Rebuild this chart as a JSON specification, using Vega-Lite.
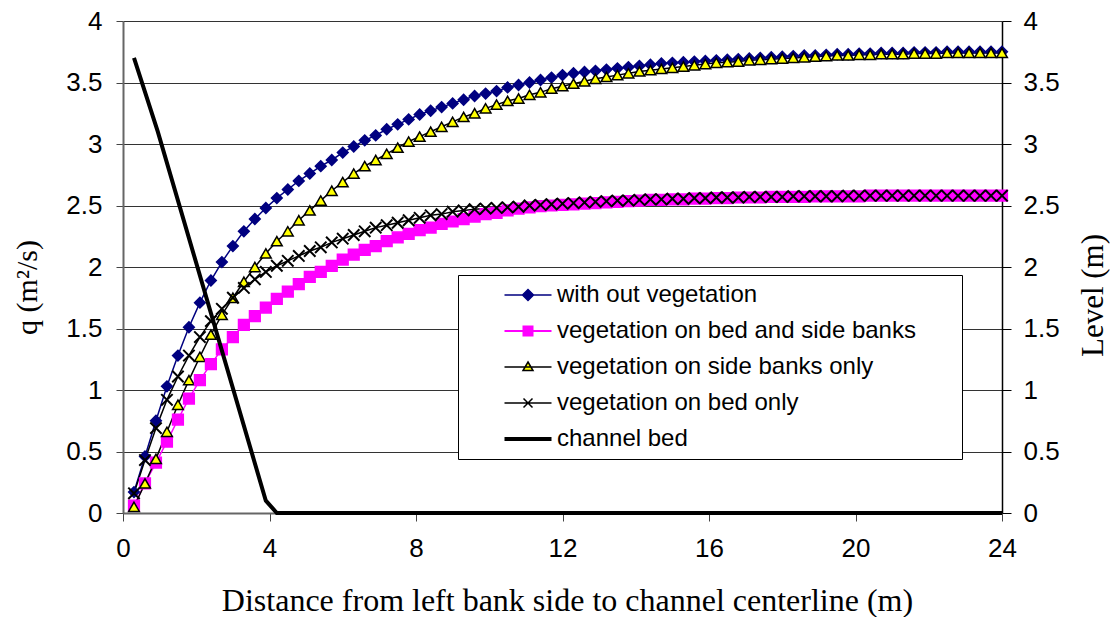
{
  "$schema": "https://vega.github.io/schema/vega-lite/v6.json",
  "width": 879,
  "height": 492,
  "autosize": {"type": "none"},
  "padding": {"left": 123, "top": 21, "right": 108, "bottom": 104},
  "background": "#ffffff",
  "config": {
    "view": {"stroke": null},
    "axis": {"labelFont": "Liberation Sans", "titleFont": "Liberation Serif", "labelColor": "#000", "titleColor": "#000", "titleFontWeight": "normal"}
  },
  "datasets": {
    "flow": [
      {"x": 0.3, "with out vegetation": 0.17, "vegetation on bed and side banks": 0.06, "vegetation on side banks only": 0.05, "vegetation on bed only": 0.16},
      {"x": 0.6, "with out vegetation": 0.46, "vegetation on bed and side banks": 0.24, "vegetation on side banks only": 0.24, "vegetation on bed only": 0.43},
      {"x": 0.9, "with out vegetation": 0.75, "vegetation on bed and side banks": 0.41, "vegetation on side banks only": 0.44, "vegetation on bed only": 0.69},
      {"x": 1.2, "with out vegetation": 1.03, "vegetation on bed and side banks": 0.58, "vegetation on side banks only": 0.66, "vegetation on bed only": 0.92},
      {"x": 1.5, "with out vegetation": 1.28, "vegetation on bed and side banks": 0.76, "vegetation on side banks only": 0.88, "vegetation on bed only": 1.11},
      {"x": 1.8, "with out vegetation": 1.51, "vegetation on bed and side banks": 0.93, "vegetation on side banks only": 1.08, "vegetation on bed only": 1.28},
      {"x": 2.1, "with out vegetation": 1.71, "vegetation on bed and side banks": 1.08, "vegetation on side banks only": 1.27, "vegetation on bed only": 1.43},
      {"x": 2.4, "with out vegetation": 1.89, "vegetation on bed and side banks": 1.21, "vegetation on side banks only": 1.45, "vegetation on bed only": 1.56},
      {"x": 2.7, "with out vegetation": 2.04, "vegetation on bed and side banks": 1.33, "vegetation on side banks only": 1.61, "vegetation on bed only": 1.66},
      {"x": 3.0, "with out vegetation": 2.17, "vegetation on bed and side banks": 1.43, "vegetation on side banks only": 1.75, "vegetation on bed only": 1.75},
      {"x": 3.3, "with out vegetation": 2.29, "vegetation on bed and side banks": 1.53, "vegetation on side banks only": 1.88, "vegetation on bed only": 1.83},
      {"x": 3.6, "with out vegetation": 2.39, "vegetation on bed and side banks": 1.60, "vegetation on side banks only": 2.00, "vegetation on bed only": 1.90},
      {"x": 3.9, "with out vegetation": 2.48, "vegetation on bed and side banks": 1.67, "vegetation on side banks only": 2.11, "vegetation on bed only": 1.96},
      {"x": 4.2, "with out vegetation": 2.56, "vegetation on bed and side banks": 1.74, "vegetation on side banks only": 2.21, "vegetation on bed only": 2.01},
      {"x": 4.5, "with out vegetation": 2.63, "vegetation on bed and side banks": 1.80, "vegetation on side banks only": 2.29, "vegetation on bed only": 2.05},
      {"x": 4.8, "with out vegetation": 2.70, "vegetation on bed and side banks": 1.86, "vegetation on side banks only": 2.38, "vegetation on bed only": 2.09},
      {"x": 5.1, "with out vegetation": 2.76, "vegetation on bed and side banks": 1.92, "vegetation on side banks only": 2.46, "vegetation on bed only": 2.13},
      {"x": 5.4, "with out vegetation": 2.82, "vegetation on bed and side banks": 1.96, "vegetation on side banks only": 2.54, "vegetation on bed only": 2.16},
      {"x": 5.7, "with out vegetation": 2.87, "vegetation on bed and side banks": 2.01, "vegetation on side banks only": 2.62, "vegetation on bed only": 2.20},
      {"x": 6.0, "with out vegetation": 2.93, "vegetation on bed and side banks": 2.06, "vegetation on side banks only": 2.69, "vegetation on bed only": 2.23},
      {"x": 6.3, "with out vegetation": 2.98, "vegetation on bed and side banks": 2.10, "vegetation on side banks only": 2.76, "vegetation on bed only": 2.26},
      {"x": 6.6, "with out vegetation": 3.03, "vegetation on bed and side banks": 2.14, "vegetation on side banks only": 2.82, "vegetation on bed only": 2.29},
      {"x": 6.9, "with out vegetation": 3.07, "vegetation on bed and side banks": 2.17, "vegetation on side banks only": 2.87, "vegetation on bed only": 2.32},
      {"x": 7.2, "with out vegetation": 3.12, "vegetation on bed and side banks": 2.21, "vegetation on side banks only": 2.92, "vegetation on bed only": 2.34},
      {"x": 7.5, "with out vegetation": 3.16, "vegetation on bed and side banks": 2.24, "vegetation on side banks only": 2.97, "vegetation on bed only": 2.36},
      {"x": 7.8, "with out vegetation": 3.20, "vegetation on bed and side banks": 2.27, "vegetation on side banks only": 3.02, "vegetation on bed only": 2.38},
      {"x": 8.1, "with out vegetation": 3.24, "vegetation on bed and side banks": 2.30, "vegetation on side banks only": 3.06, "vegetation on bed only": 2.40},
      {"x": 8.4, "with out vegetation": 3.27, "vegetation on bed and side banks": 2.32, "vegetation on side banks only": 3.10, "vegetation on bed only": 2.42},
      {"x": 8.7, "with out vegetation": 3.30, "vegetation on bed and side banks": 2.35, "vegetation on side banks only": 3.14, "vegetation on bed only": 2.43},
      {"x": 9.0, "with out vegetation": 3.33, "vegetation on bed and side banks": 2.37, "vegetation on side banks only": 3.18, "vegetation on bed only": 2.45},
      {"x": 9.3, "with out vegetation": 3.36, "vegetation on bed and side banks": 2.39, "vegetation on side banks only": 3.22, "vegetation on bed only": 2.46},
      {"x": 9.6, "with out vegetation": 3.39, "vegetation on bed and side banks": 2.41, "vegetation on side banks only": 3.25, "vegetation on bed only": 2.47},
      {"x": 9.9, "with out vegetation": 3.41, "vegetation on bed and side banks": 2.43, "vegetation on side banks only": 3.29, "vegetation on bed only": 2.475},
      {"x": 10.2, "with out vegetation": 3.43, "vegetation on bed and side banks": 2.44, "vegetation on side banks only": 3.32, "vegetation on bed only": 2.48},
      {"x": 10.5, "with out vegetation": 3.46, "vegetation on bed and side banks": 2.46, "vegetation on side banks only": 3.35, "vegetation on bed only": 2.485},
      {"x": 10.8, "with out vegetation": 3.48, "vegetation on bed and side banks": 2.475, "vegetation on side banks only": 3.37, "vegetation on bed only": 2.49},
      {"x": 11.1, "with out vegetation": 3.50, "vegetation on bed and side banks": 2.485, "vegetation on side banks only": 3.40, "vegetation on bed only": 2.50},
      {"x": 11.4, "with out vegetation": 3.52, "vegetation on bed and side banks": 2.495, "vegetation on side banks only": 3.42, "vegetation on bed only": 2.505},
      {"x": 11.7, "with out vegetation": 3.54, "vegetation on bed and side banks": 2.50, "vegetation on side banks only": 3.45, "vegetation on bed only": 2.51},
      {"x": 12.0, "with out vegetation": 3.56, "vegetation on bed and side banks": 2.505, "vegetation on side banks only": 3.47, "vegetation on bed only": 2.515},
      {"x": 12.3, "with out vegetation": 3.575, "vegetation on bed and side banks": 2.51, "vegetation on side banks only": 3.49, "vegetation on bed only": 2.52},
      {"x": 12.6, "with out vegetation": 3.585, "vegetation on bed and side banks": 2.515, "vegetation on side banks only": 3.51, "vegetation on bed only": 2.525},
      {"x": 12.9, "with out vegetation": 3.595, "vegetation on bed and side banks": 2.52, "vegetation on side banks only": 3.53, "vegetation on bed only": 2.53},
      {"x": 13.2, "with out vegetation": 3.605, "vegetation on bed and side banks": 2.525, "vegetation on side banks only": 3.545, "vegetation on bed only": 2.535},
      {"x": 13.5, "with out vegetation": 3.615, "vegetation on bed and side banks": 2.53, "vegetation on side banks only": 3.56, "vegetation on bed only": 2.54},
      {"x": 13.8, "with out vegetation": 3.625, "vegetation on bed and side banks": 2.535, "vegetation on side banks only": 3.575, "vegetation on bed only": 2.54},
      {"x": 14.1, "with out vegetation": 3.635, "vegetation on bed and side banks": 2.54, "vegetation on side banks only": 3.59, "vegetation on bed only": 2.545},
      {"x": 14.4, "with out vegetation": 3.645, "vegetation on bed and side banks": 2.545, "vegetation on side banks only": 3.60, "vegetation on bed only": 2.55},
      {"x": 14.7, "with out vegetation": 3.655, "vegetation on bed and side banks": 2.545, "vegetation on side banks only": 3.61, "vegetation on bed only": 2.55},
      {"x": 15.0, "with out vegetation": 3.66, "vegetation on bed and side banks": 2.55, "vegetation on side banks only": 3.62, "vegetation on bed only": 2.555},
      {"x": 15.3, "with out vegetation": 3.665, "vegetation on bed and side banks": 2.55, "vegetation on side banks only": 3.63, "vegetation on bed only": 2.555},
      {"x": 15.6, "with out vegetation": 3.67, "vegetation on bed and side banks": 2.555, "vegetation on side banks only": 3.64, "vegetation on bed only": 2.56},
      {"x": 15.9, "with out vegetation": 3.675, "vegetation on bed and side banks": 2.555, "vegetation on side banks only": 3.65, "vegetation on bed only": 2.56},
      {"x": 16.2, "with out vegetation": 3.68, "vegetation on bed and side banks": 2.56, "vegetation on side banks only": 3.66, "vegetation on bed only": 2.565},
      {"x": 16.5, "with out vegetation": 3.685, "vegetation on bed and side banks": 2.56, "vegetation on side banks only": 3.665, "vegetation on bed only": 2.565},
      {"x": 16.8, "with out vegetation": 3.69, "vegetation on bed and side banks": 2.565, "vegetation on side banks only": 3.67, "vegetation on bed only": 2.565},
      {"x": 17.1, "with out vegetation": 3.695, "vegetation on bed and side banks": 2.565, "vegetation on side banks only": 3.68, "vegetation on bed only": 2.57},
      {"x": 17.4, "with out vegetation": 3.70, "vegetation on bed and side banks": 2.565, "vegetation on side banks only": 3.685, "vegetation on bed only": 2.57},
      {"x": 17.7, "with out vegetation": 3.705, "vegetation on bed and side banks": 2.57, "vegetation on side banks only": 3.69, "vegetation on bed only": 2.57},
      {"x": 18.0, "with out vegetation": 3.71, "vegetation on bed and side banks": 2.57, "vegetation on side banks only": 3.695, "vegetation on bed only": 2.57},
      {"x": 18.3, "with out vegetation": 3.715, "vegetation on bed and side banks": 2.57, "vegetation on side banks only": 3.70, "vegetation on bed only": 2.575},
      {"x": 18.6, "with out vegetation": 3.72, "vegetation on bed and side banks": 2.57, "vegetation on side banks only": 3.705, "vegetation on bed only": 2.575},
      {"x": 18.9, "with out vegetation": 3.72, "vegetation on bed and side banks": 2.575, "vegetation on side banks only": 3.71, "vegetation on bed only": 2.575},
      {"x": 19.2, "with out vegetation": 3.725, "vegetation on bed and side banks": 2.575, "vegetation on side banks only": 3.715, "vegetation on bed only": 2.575},
      {"x": 19.5, "with out vegetation": 3.73, "vegetation on bed and side banks": 2.575, "vegetation on side banks only": 3.72, "vegetation on bed only": 2.575},
      {"x": 19.8, "with out vegetation": 3.73, "vegetation on bed and side banks": 2.575, "vegetation on side banks only": 3.72, "vegetation on bed only": 2.58},
      {"x": 20.1, "with out vegetation": 3.735, "vegetation on bed and side banks": 2.575, "vegetation on side banks only": 3.725, "vegetation on bed only": 2.58},
      {"x": 20.4, "with out vegetation": 3.735, "vegetation on bed and side banks": 2.58, "vegetation on side banks only": 3.725, "vegetation on bed only": 2.58},
      {"x": 20.7, "with out vegetation": 3.74, "vegetation on bed and side banks": 2.58, "vegetation on side banks only": 3.73, "vegetation on bed only": 2.58},
      {"x": 21.0, "with out vegetation": 3.74, "vegetation on bed and side banks": 2.58, "vegetation on side banks only": 3.73, "vegetation on bed only": 2.58},
      {"x": 21.3, "with out vegetation": 3.74, "vegetation on bed and side banks": 2.58, "vegetation on side banks only": 3.73, "vegetation on bed only": 2.58},
      {"x": 21.6, "with out vegetation": 3.745, "vegetation on bed and side banks": 2.58, "vegetation on side banks only": 3.735, "vegetation on bed only": 2.58},
      {"x": 21.9, "with out vegetation": 3.745, "vegetation on bed and side banks": 2.58, "vegetation on side banks only": 3.735, "vegetation on bed only": 2.58},
      {"x": 22.2, "with out vegetation": 3.745, "vegetation on bed and side banks": 2.58, "vegetation on side banks only": 3.735, "vegetation on bed only": 2.58},
      {"x": 22.5, "with out vegetation": 3.75, "vegetation on bed and side banks": 2.58, "vegetation on side banks only": 3.74, "vegetation on bed only": 2.58},
      {"x": 22.8, "with out vegetation": 3.75, "vegetation on bed and side banks": 2.58, "vegetation on side banks only": 3.74, "vegetation on bed only": 2.58},
      {"x": 23.1, "with out vegetation": 3.75, "vegetation on bed and side banks": 2.58, "vegetation on side banks only": 3.74, "vegetation on bed only": 2.58},
      {"x": 23.4, "with out vegetation": 3.75, "vegetation on bed and side banks": 2.58, "vegetation on side banks only": 3.74, "vegetation on bed only": 2.58},
      {"x": 23.7, "with out vegetation": 3.75, "vegetation on bed and side banks": 2.58, "vegetation on side banks only": 3.74, "vegetation on bed only": 2.58},
      {"x": 24.0, "with out vegetation": 3.75, "vegetation on bed and side banks": 2.58, "vegetation on side banks only": 3.74, "vegetation on bed only": 2.58}
    ],
    "bed": [
      {"x": 0.3, "level": 3.7},
      {"x": 0.95, "level": 3.1},
      {"x": 3.9, "level": 0.1},
      {"x": 4.2, "level": 0.0},
      {"x": 24.0, "level": 0.0}
    ]
  },
  "layer": [
    {
      "data": {"name": "flow"},
      "transform": [
        {"fold": ["with out vegetation", "vegetation on bed and side banks", "vegetation on side banks only", "vegetation on bed only"], "as": ["series", "q"]}
      ],
      "encoding": {
        "x": {
          "field": "x", "type": "quantitative",
          "scale": {"domain": [0, 24], "nice": false},
          "axis": {
            "values": [0, 4, 8, 12, 16, 20, 24],
            "title": "Distance from left bank side to channel centerline (m)",
            "titleFontSize": 32, "titleX": 444, "titleY": 87, "titleBaseline": "middle",
            "labelFontSize": 26, "labelPadding": 14, "labelFlush": false, "tickSize": 8, "tickColor": "#444",
            "domainColor": "#666", "domainWidth": 2, "grid": false
          }
        },
        "y": {
          "field": "q", "type": "quantitative",
          "scale": {"domain": [0, 4], "nice": false},
          "axis": {
            "values": [0, 0.5, 1, 1.5, 2, 2.5, 3, 3.5, 4],
            "format": "~g",
            "title": "q (m²/s)",
            "titleFontSize": 30, "titleX": -96, "titleY": 266, "titleBaseline": "middle", "titleAngle": -90,
            "labelFontSize": 26, "labelPadding": 14, "labelFlush": false, "tickSize": 7, "tickColor": "#444",
            "domainColor": "#666", "domainWidth": 2,
            "grid": true, "gridColor": "#333", "gridWidth": 1
          }
        }
      },
      "layer": [
        {
          "mark": {"type": "line", "strokeWidth": 1.5},
          "encoding": {
            "stroke": {
              "field": "series", "type": "nominal",
              "scale": {
                "domain": ["with out vegetation", "vegetation on bed and side banks", "vegetation on side banks only", "vegetation on bed only", "channel bed"],
                "range": ["#000080", "#ff00ff", "#000000", "#000000", "#000000"]
              },
              "legend": {
                "orient": "none", "legendX": 335, "legendY": 254,
                "title": " ", "titleOrient": "right", "titlePadding": 38, "titleFontSize": 8,
                "padding": 8,
                "strokeColor": "#000", "fillColor": "#fff",
                "labelFont": "Liberation Sans", "labelFontSize": 24, "labelColor": "#000", "labelLimit": 600,
                "symbolSize": 400, "symbolOffset": 50, "labelOffset": 17, "rowPadding": 12,
                "encode": {
                  "symbols": {
                    "update": {
                      "shape": {"signal": "datum.value === 'with out vegetation' ? 'M-2.35,0H2.35M0,-0.55L0.55,0L0,0.55L-0.55,0Z' : datum.value === 'vegetation on bed and side banks' ? 'M-2.35,0H2.35M-0.45,-0.45H0.45V0.45H-0.45Z' : datum.value === 'vegetation on side banks only' ? 'M-2.35,0H2.35M0,-0.5L0.5,0.35L-0.5,0.35Z' : datum.value === 'vegetation on bed only' ? 'M-2.35,0H2.35M-0.45,-0.45L0.45,0.45M-0.45,0.45L0.45,-0.45' : 'M-2.35,0H2.35'"},
                      "fill": {"signal": "datum.value === 'with out vegetation' ? '#000080' : datum.value === 'vegetation on bed and side banks' ? '#ff00ff' : datum.value === 'vegetation on side banks only' ? '#ffff00' : 'transparent'"},
                      "strokeWidth": {"signal": "datum.value === 'channel bed' ? 4 : datum.value === 'vegetation on bed and side banks' ? 2 : 1.5"},
                      "size": {"value": 400},
                      "opacity": {"value": 1}
                    }
                  }
                }
              }
            }
          }
        },
        {
          "transform": [{"filter": "datum.series !== 'vegetation on bed only'"}],
          "mark": {"type": "point", "filled": true, "size": 115, "strokeWidth": 1.5, "opacity": 1},
          "encoding": {
            "stroke": {"field": "series", "type": "nominal"},
            "fill": {
              "field": "series", "type": "nominal",
              "scale": {
                "domain": ["with out vegetation", "vegetation on bed and side banks", "vegetation on side banks only"],
                "range": ["#000080", "#ff00ff", "#ffff00"]
              },
              "legend": null
            },
            "shape": {
              "field": "series", "type": "nominal",
              "scale": {
                "domain": ["with out vegetation", "vegetation on bed and side banks", "vegetation on side banks only"],
                "range": ["diamond", "square", "triangle-up"]
              },
              "legend": null
            }
          }
        },
        {
          "transform": [{"filter": "datum.series === 'vegetation on bed only'"}],
          "mark": {"type": "point", "filled": false, "shape": "M-1,-1L1,1M-1,1L1,-1", "size": 130, "strokeWidth": 2, "color": "#000", "opacity": 1},
          "encoding": {}
        }
      ]
    },
    {
      "data": {"name": "bed"},
      "mark": {"type": "line", "strokeWidth": 4},
      "encoding": {
        "x": {"field": "x", "type": "quantitative", "scale": {"domain": [0, 24], "nice": false}},
        "y": {
          "field": "level", "type": "quantitative",
          "scale": {"domain": [0, 4], "nice": false},
          "axis": {
            "orient": "right",
            "values": [0, 0.5, 1, 1.5, 2, 2.5, 3, 3.5, 4],
            "format": "~g",
            "title": "Level (m)",
            "titleFontSize": 31, "titleX": 91, "titleY": 274, "titleBaseline": "middle", "titleAngle": 270,
            "labelFontSize": 26, "labelPadding": 12, "labelFlush": false, "tickSize": 9, "tickColor": "#000",
            "domainColor": "#000", "domainWidth": 1.5, "grid": false
          }
        },
        "stroke": {"datum": "channel bed"}
      }
    }
  ],
  "resolve": {"scale": {"y": "independent"}}
}
